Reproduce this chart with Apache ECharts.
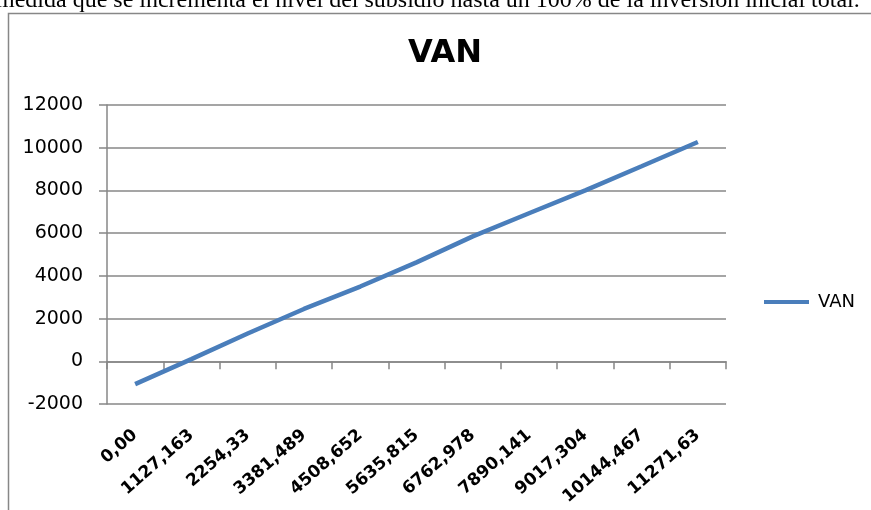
<!DOCTYPE html>
<html>
<head>
<meta charset="utf-8">
<script src="https://cdn.jsdelivr.net/npm/echarts@6/dist/echarts.min.js"></script>
<style>
  html, body { margin: 0; padding: 0; background: #fff; }
  #chart { width: 871px; height: 510px; }
</style>
</head>
<body>
<div id="chart"></div>
<script>
const categories = ['0,00', '1127,163', '2254,33', '3381,489', '4508,652', '5635,815',
  '6762,978', '7890,141', '9017,304', '10144,467', '11271,63']
const vanValues = [-1070, 100, 1300, 2450, 3500, 4630, 5850, 6930, 8000, 9130, 10270]
const seriesName = 'VAN'
const yMin = -2000
const yMax = 12000
const yStep = 2000
const topText = 'medida que se incrementa el nivel del subsidio hasta un 100% de la inversión inicial total.'

const chart = echarts.init(document.getElementById('chart'), null, { renderer: 'canvas' })

const gray = '#878787'
const option = {
  animation: false,
  backgroundColor: '#fff',
  title: {
    text: seriesName,
    left: 403,
    top: 33,
    textStyle: { fontFamily: 'DejaVu Sans', fontWeight: 'bold', fontSize: 32, color: '#000' }
  },
  graphic: [
    // caption line from the page, cut off at the top
    {
      type: 'text',
      left: -4,
      top: -11,
      style: { text: topText, font: '24px "Liberation Serif"', fill: '#000' }
    },
    // chart frame (runs off the right and bottom edge)
    {
      type: 'rect',
      shape: { x: 8.5, y: 13.5, width: 900, height: 600 },
      style: { fill: 'none', stroke: gray, lineWidth: 1.5 },
      silent: true
    }
  ],
  legend: {
    data: [seriesName],
    left: 759,
    top: 288,
    icon: 'rect',
    itemWidth: 45,
    itemHeight: 4,
    textStyle: { fontFamily: 'DejaVu Sans', fontSize: 18, color: '#000', padding: [0, 0, 0, 4] }
  },
  grid: { left: 107, right: 145, top: 105, bottom: 106, containLabel: false, outerBoundsMode: 'none' },
  xAxis: {
    type: 'category',
    data: categories,
    boundaryGap: true,
    axisLine: { onZero: true, lineStyle: { color: gray, width: 1.5 } },
    axisTick: { show: true, length: 8, lineStyle: { color: gray, width: 1.5 } },
    axisLabel: {
      interval: 0,
      rotate: 41,
      margin: 29,
      fontFamily: 'DejaVu Sans',
      fontWeight: 'bold',
      fontSize: 17,
      color: '#000'
    },
    splitLine: { show: false }
  },
  yAxis: {
    type: 'value',
    min: yMin,
    max: yMax,
    interval: yStep,
    axisLine: { show: true, lineStyle: { color: gray, width: 1.5 } },
    axisTick: { show: true, length: 8, lineStyle: { color: gray, width: 1.5 } },
    axisLabel: {
      margin: 24,
      fontFamily: 'DejaVu Sans',
      fontSize: 19,
      color: '#000',
      formatter: (v) => String(v)
    },
    splitLine: { show: true, lineStyle: { color: gray, width: 1.5 } }
  },
  series: [
    {
      name: seriesName,
      type: 'line',
      data: vanValues,
      symbol: 'none',
      color: '#4a7ebb',
      lineStyle: { width: 4.5, color: '#4a7ebb' }
    }
  ]
}

chart.setOption(option)
window.addEventListener('resize', () => chart.resize())
</script>
</body>
</html>
